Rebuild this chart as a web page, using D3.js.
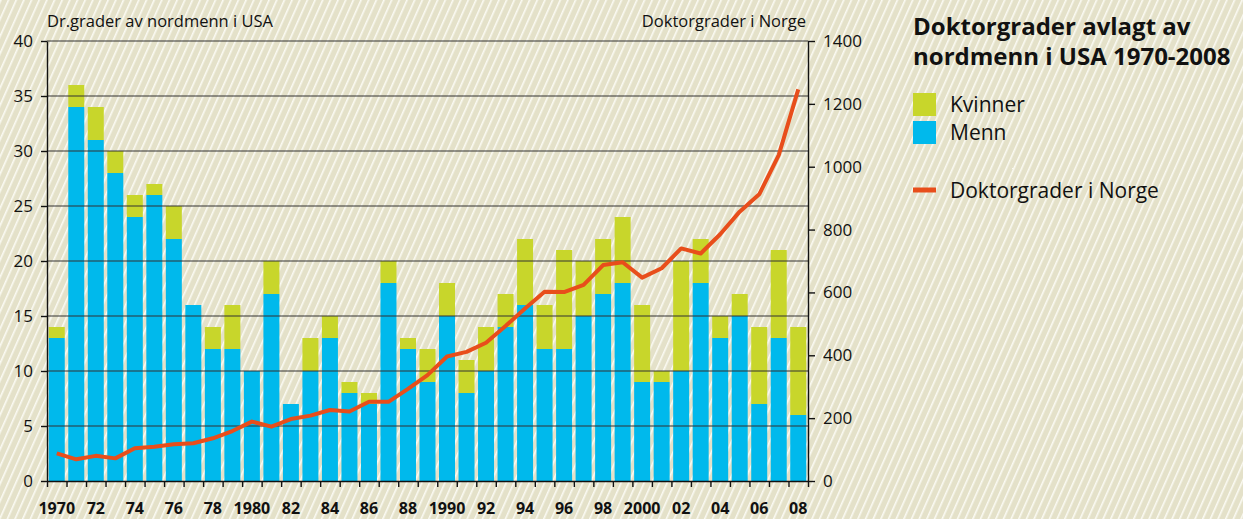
<!DOCTYPE html>
<html>
<head>
<meta charset="utf-8">
<script src="https://d3js.org/d3.v7.min.js"></script>
<style>
  body { margin: 0; background: #e4e1c9; }
  svg { display: block; }
  text { font-family: "Open Sans", "Noto Sans", sans-serif; fill: #111; }
</style>
</head>
<body>
<div id="chart"></div>
<script>
// data
const years = d3.range(1970, 2009);
const menn =    [13,34,31,28,24,26,22,16,12,12,10,17, 7,10,13, 8, 7,18,12, 9,15, 8,10,14,16,12,12,15,17,18, 9, 9,10,18,13,15, 7,13, 6];
const kvinner = [ 1, 2, 3, 2, 2, 1, 3, 0, 2, 4, 0, 3, 0, 3, 2, 1, 1, 2, 1, 3, 3, 3, 4, 3, 6, 4, 9, 5, 5, 6, 7, 1,10, 4, 2, 2, 7, 8, 8];
const norge =   [88,69,80,72,104,109,117,120,136,159,189,173,197,208,226,221,252,252,293,337,396,411,440,493,549,602,601,624,687,696,647,677,740,724,785,857,912,1037,1246];
const leftTicks = [0,5,10,15,20,25,30,35,40];
const rightTicks = [0,200,400,600,800,1000,1200,1400];
const labelYears = years.filter(y => y % 2 === 0);

const colors = {menn: "#00b9ec", kvinner: "#c8d62b", line: "#e84e1b", grid: "#333"};

const W = 1243, H = 519;
const margin = {top: 41, left: 47, right: 435, bottom: 38};
const plotRight = W - margin.right;
const plotBottom = H - margin.bottom;

const svg = d3.select("#chart").append("svg")
    .attr("width", W)
    .attr("height", H);

// hatched background
const pat = svg.append("defs").append("pattern")
    .attr("id", "hatch")
    .attr("patternUnits", "userSpaceOnUse")
    .attr("width", 7)
    .attr("height", 7)
    .attr("patternTransform", "rotate(24)");
pat.append("rect").attr("width", 7).attr("height", 7).attr("fill", "#e4e1c9");
pat.append("rect").attr("x", 0).attr("width", 1.6).attr("height", 7).attr("fill", "#fbfaf3");

svg.append("rect").attr("width", W).attr("height", H).attr("fill", "url(#hatch)");

const x = d3.scaleBand()
    .domain(years)
    .range([margin.left, plotRight])
    .paddingInner(0.18)
    .paddingOuter(0.09);

const xEdge = d3.scaleLinear()
    .domain([1970, 2009])
    .range([margin.left, plotRight]);

const yL = d3.scaleLinear().domain([0, 40]).range([plotBottom, margin.top]);
const yR = d3.scaleLinear().domain([0, 1400]).range([plotBottom, margin.top]);

// bars
const rows = years.map((yr, i) => ({year: yr, menn: menn[i], kvinner: kvinner[i]}));
const stack = d3.stack().keys(["menn", "kvinner"])(rows);

svg.append("g").selectAll("g")
    .data(stack)
    .join("g")
    .attr("fill", d => colors[d.key])
    .selectAll("rect")
    .data(d => d)
    .join("rect")
    .attr("x", d => x(d.data.year))
    .attr("width", x.bandwidth())
    .attr("y", d => yL(d[1]))
    .attr("height", d => yL(d[0]) - yL(d[1]));

// gridlines (left axis)
svg.append("g").selectAll("line")
    .data(leftTicks.filter(t => t > 0))
    .join("line")
    .attr("x1", margin.left)
    .attr("x2", plotRight)
    .attr("y1", d => yL(d))
    .attr("y2", d => yL(d))
    .attr("stroke", colors.grid)
    .attr("stroke-width", 1.2);

// line
const line = d3.line()
    .x((d, i) => x(years[i]) + x.bandwidth() / 2)
    .y(d => yR(d));

svg.append("path")
    .datum(norge)
    .attr("d", line)
    .attr("fill", "none")
    .attr("stroke", colors.line)
    .attr("stroke-width", 4)
    .attr("stroke-linejoin", "round");

// axes
function styleAxis(g) {
    g.selectAll("path, line").attr("stroke", "#111").attr("stroke-width", 1.4);
    g.selectAll("text").style("font-size", "17px").attr("fill", "#111");
}

svg.append("g")
    .attr("transform", `translate(${margin.left},0)`)
    .call(d3.axisLeft(yL).tickValues(leftTicks).tickSize(6).tickSizeOuter(0).tickPadding(8))
    .call(styleAxis);

svg.append("g")
    .attr("transform", `translate(${plotRight},0)`)
    .call(d3.axisRight(yR).tickValues(rightTicks).tickSize(7).tickSizeOuter(0).tickPadding(8)
        .tickFormat(d3.format("d")))
    .call(styleAxis);

svg.append("g")
    .attr("transform", `translate(0,${plotBottom})`)
    .call(d3.axisBottom(xEdge).tickValues(d3.range(1970, 2010)).tickSize(6).tickSizeOuter(0).tickFormat(""))
    .call(styleAxis);

// year labels sit a bit higher than in the reference so they are not clipped
const xLabels = svg.append("g")
    .attr("transform", `translate(0,${plotBottom})`)
    .call(d3.axisBottom(x).tickValues(labelYears).tickSize(0).tickPadding(22)
        .tickFormat(d => d % 10 === 0 ? d : String(d).slice(2)));
xLabels.select(".domain").remove();
xLabels.selectAll("text")
    .style("font-size", "16px")
    .style("font-weight", "bold")
    .attr("fill", "#111");

// axis titles
svg.append("text")
    .attr("x", margin.left)
    .attr("y", 27)
    .style("font-size", "16.5px")
    .text("Dr.grader av nordmenn i USA");

svg.append("text")
    .attr("x", plotRight - 2)
    .attr("y", 27)
    .attr("text-anchor", "end")
    .style("font-size", "16.5px")
    .text("Doktorgrader i Norge");

// title + legend
const lg = svg.append("g").attr("transform", "translate(913,0)");
lg.append("text").attr("y", 35)
    .style("font-size", "24px").style("font-weight", "bold")
    .text("Doktorgrader avlagt av");
lg.append("text").attr("y", 65)
    .style("font-size", "24px").style("font-weight", "bold")
    .text("nordmenn i USA 1970-2008");

const legendItems = [
    {label: "Kvinner", color: colors.kvinner, y: 93},
    {label: "Menn", color: colors.menn, y: 121}
];
lg.selectAll(".sw").data(legendItems).join("rect")
    .attr("x", 0).attr("y", d => d.y)
    .attr("width", 23).attr("height", 23)
    .attr("fill", d => d.color);
lg.selectAll(".lt").data(legendItems).join("text")
    .attr("x", 37).attr("y", d => d.y + 19)
    .style("font-size", "21px")
    .text(d => d.label);

lg.append("line")
    .attr("x1", 0).attr("x2", 23).attr("y1", 190).attr("y2", 190)
    .attr("stroke", colors.line).attr("stroke-width", 5);
lg.append("text")
    .attr("x", 37).attr("y", 198)
    .style("font-size", "21px")
    .text("Doktorgrader i Norge");
</script>
</body>
</html>
